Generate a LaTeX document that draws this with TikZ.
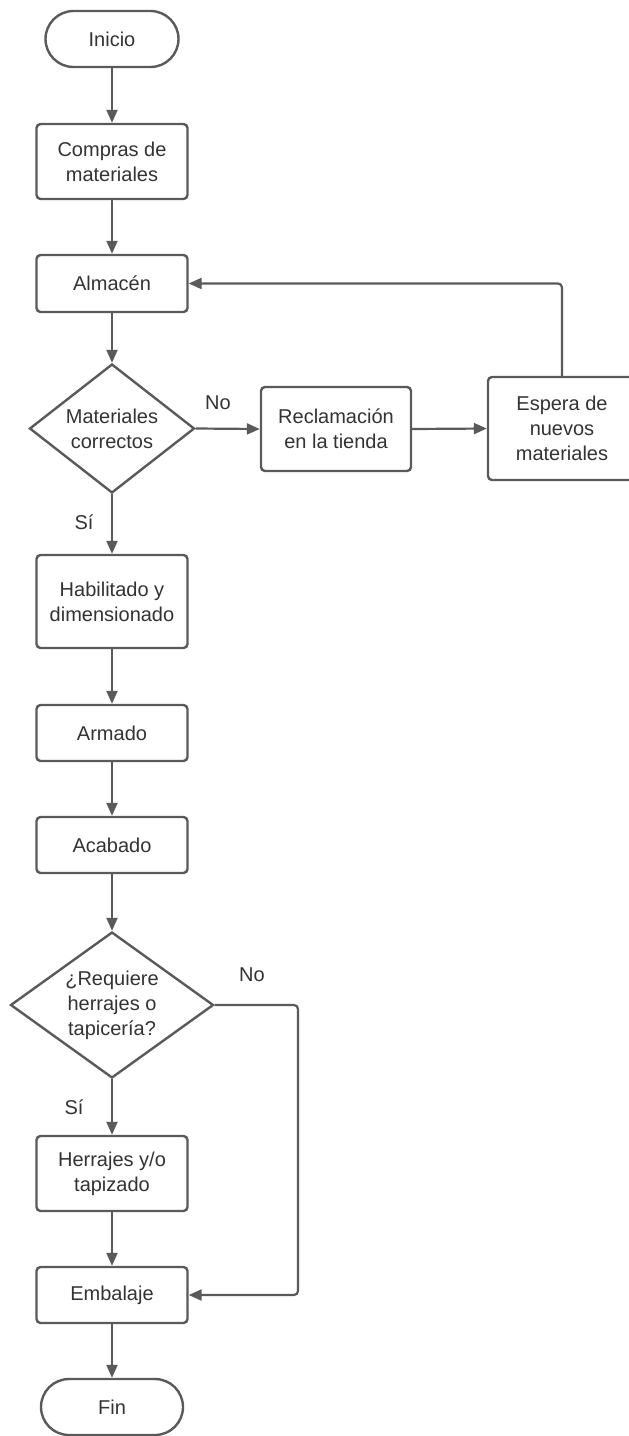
\documentclass[tikz,border=0pt]{standalone}
\usepackage{fontspec}
\setmainfont{Liberation Sans}
\usetikzlibrary{arrows.meta,shapes.geometric}
\definecolor{linec}{HTML}{5A5A5A}
\definecolor{textc}{HTML}{333333}
\tikzset{
  base/.style={draw=linec, line width=2.4pt, text=textc, align=center,
    font=\fontsize{20}{25}\selectfont, inner sep=0pt},
  procbox/.style={base, rectangle, rounded corners=4pt, minimum width=151pt},
  termbox/.style={base, rectangle, rounded corners=28pt, minimum height=56pt},
  decbox/.style={base, diamond},
  arr/.style={draw=linec, line width=2.2pt, rounded corners=4pt,
    -{Triangle[length=13pt,width=11pt]}},
  lbl/.style={text=textc, font=\fontsize{20}{24}\selectfont, inner sep=0pt}
}
\begin{document}
\begin{tikzpicture}[x=1pt,y=-1pt]
\useasboundingbox[fill=white] (0,0) rectangle (629,1436);
\node[termbox, minimum width=133pt] (ini) at (112,39) {Inicio};
\node[procbox, minimum height=75pt] (comp) at (112,161.5) {Compras de\\materiales};
\node[procbox, minimum height=57pt] (alm) at (112,283.5) {Almacén};
\node[decbox, aspect=1.28, minimum width=165pt, minimum height=129pt] (d1) at (112,428.5) {Materiales\\correctos};
\node[procbox, minimum width=150pt, minimum height=84pt] (rec) at (336,429) {Reclamación\\en la tienda};
\node[procbox, minimum width=148pt, minimum height=103pt] (esp) at (562,428.5) {Espera de\\nuevos\\materiales};
\node[procbox, minimum height=93pt] (hab) at (112,601.5) {Habilitado y\\dimensionado};
\node[procbox, minimum height=56pt] (arm) at (112,733) {Armado};
\node[procbox, minimum height=56pt] (aca) at (112,845) {Acabado};
\node[decbox, aspect=1.39, minimum width=203pt, minimum height=146pt] (d2) at (112,1005) {¿Requiere\\herrajes o\\tapicería?};
\node[procbox, minimum height=75pt] (herr) at (112,1173.5) {Herrajes y/o\\tapizado};
\node[procbox, minimum height=56pt] (emb) at (112,1295) {Embalaje};
\node[termbox, minimum width=142pt] (fin) at (112,1407) {Fin};
\node[lbl] (no1) at (218,403) {No};
\node[lbl] (si1) at (84,522) {Sí};
\node[lbl] (no2) at (252,975) {No};
\node[lbl] (si2) at (74,1107) {Sí};
\coordinate (c2) at (298,1005);
\draw[arr] (ini) -- (comp);
\draw[arr] (comp) -- (alm);
\draw[arr] (alm) -- (d1);
\draw[arr] (d1.east) -- (rec.west);
\draw[arr] (rec.east) -- (esp.west);
\draw[arr] (esp.north) |- (alm.east);
\draw[arr] (d1.south) -- (hab.north);
\draw[arr] (hab) -- (arm);
\draw[arr] (arm) -- (aca);
\draw[arr] (aca) -- (d2.north);
\draw[arr] (d2.south) -- (herr.north);
\draw[arr] (herr) -- (emb);
\draw[arr] (d2.east) -- (c2) |- (emb.east);
\draw[arr] (emb) -- (fin);
\end{tikzpicture}
\end{document}
